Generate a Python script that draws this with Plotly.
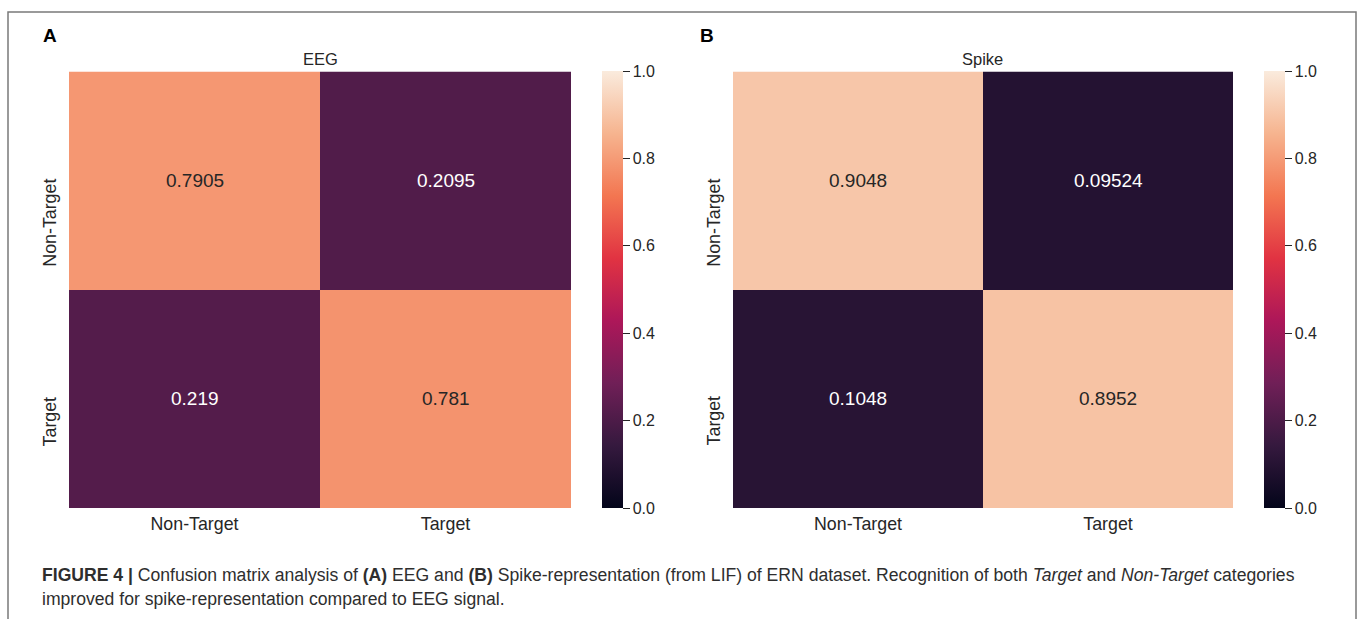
import plotly.graph_objects as go

# ---- data ----
categories = ["Non-Target", "Target"]
eeg_values = [[0.7905, 0.2095], [0.219, 0.781]]
spike_values = [[0.9048, 0.09524], [0.1048, 0.8952]]
panel_titles = ["EEG", "Spike"]
panel_letters = ["A", "B"]
cbar_ticks = [0.0, 0.2, 0.4, 0.6, 0.8, 1.0]
cbar_ticklabels = ["0.0", "0.2", "0.4", "0.6", "0.8", "1.0"]

W, H = 1362, 619
FONT = "Liberation Sans, Arial, sans-serif"
TXT = "#262626"

# seaborn "rocket" colormap samples
rocket = [
    [0.0, "#03051a"], [1/7, "#35193e"], [2/7, "#701f57"], [3/7, "#ad1759"],
    [4/7, "#e13342"], [5/7, "#f37651"], [6/7, "#f6b48f"], [1.0, "#faebdd"],
]

def px_x(p):
    return p / W

def px_y(p):
    return 1 - p / H

fig = go.Figure()

panels = [
    dict(vals=eeg_values, x0=69, x1=571, cb=602),
    dict(vals=spike_values, x0=733, x1=1233, cb=1264),
]
top, bottom = 71.5, 508

annotations = []
for i, p in enumerate(panels):
    xa = "x" if i == 0 else "x2"
    ya = "y" if i == 0 else "y2"
    fig.add_trace(go.Heatmap(
        z=p["vals"], x=[0, 1], y=[0, 1],
        colorscale=rocket, zmin=0, zmax=1,
        xaxis=xa, yaxis=ya, hoverinfo="skip",
        colorbar=dict(
            x=px_x(p["cb"]), xanchor="left", xpad=0, ypad=0,
            y=px_y(bottom), yanchor="bottom",
            lenmode="pixels", len=bottom - top,
            thicknessmode="pixels", thickness=21,
            outlinewidth=0, ticks="outside", ticklen=7, tickwidth=1,
            tickcolor=TXT, tickvals=cbar_ticks, ticktext=cbar_ticklabels,
            tickfont=dict(family=FONT, size=16, color=TXT),
        ),
    ))
    axsuffix = "" if i == 0 else "2"
    fig.layout["xaxis" + axsuffix] = dict(
        domain=[px_x(p["x0"]), px_x(p["x1"])], range=[-0.5, 1.5],
        tickvals=[0, 1], ticktext=categories, ticks="", showgrid=False,
        zeroline=False, showline=False, anchor=ya,
        tickfont=dict(family=FONT, size=17.8, color=TXT),
        ticklabelstandoff=3,
    )
    fig.layout["yaxis" + axsuffix] = dict(
        domain=[px_y(bottom), px_y(top)], range=[1.5, -0.5],
        showticklabels=False, ticks="", showgrid=False, zeroline=False,
        showline=False, anchor=xa,
    )
    # cell annotations
    for r in range(2):
        for c in range(2):
            v = p["vals"][r][c]
            annotations.append(dict(
                x=c, y=r, xref=xa, yref=ya, text=format(v, ".4g"),
                showarrow=False,
                font=dict(family=FONT, size=19, color=TXT if v > 0.5 else "white"),
            ))
    # y tick labels (rotated)
    for r, lab in enumerate(categories):
        annotations.append(dict(
            x=p["x0"] / W - 19 / W, y=r, xref="paper", yref=ya, text=lab,
            textangle=-90, showarrow=False, xanchor="center", yanchor="top",
            yshift=4, font=dict(family=FONT, size=17.8, color=TXT),
        ))
    # panel title
    annotations.append(dict(
        x=px_x((p["x0"] + p["x1"]) / 2), y=px_y(59), xref="paper", yref="paper",
        text=panel_titles[i], showarrow=False, xanchor="center", yanchor="middle",
        font=dict(family=FONT, size=16.5, color=TXT),
    ))
    # panel letter
    annotations.append(dict(
        x=px_x(41 if i == 0 else 698), y=px_y(36), xref="paper", yref="paper",
        text="<b>" + panel_letters[i] + "</b>", showarrow=False,
        xanchor="left", yanchor="middle",
        font=dict(family=FONT, size=19, color="black"),
    ))

# caption
cap1 = ("<b>FIGURE 4 |</b> Confusion matrix analysis of <b>(A)</b> EEG and <b>(B)</b> "
        "Spike-representation (from LIF) of ERN dataset. Recognition of both "
        "<i>Target</i> and <i>Non-Target</i> categories")
cap2 = "improved for spike-representation compared to EEG signal."
for txt, yc in [(cap1, 575), (cap2, 599)]:
    annotations.append(dict(
        x=px_x(40), y=px_y(yc), xref="paper", yref="paper", text=txt,
        showarrow=False, xanchor="left", yanchor="middle", align="left",
        font=dict(family=FONT, size=17.6, color="#2e2e2e"),
    ))

fig.update_layout(
    width=W, height=H, margin=dict(l=0, r=0, t=0, b=0),
    paper_bgcolor="white", plot_bgcolor="white",
    annotations=annotations, showlegend=False,
    shapes=[dict(type="rect", xref="paper", yref="paper",
                 x0=px_x(8), x1=px_x(1356), y0=-0.05, y1=px_y(12),
                 line=dict(color="#7a7a7a", width=1.5))],
)

fig.write_html(
    "out.html",
    config={"displayModeBar": False},
    post_script="document.body.style.margin='0';document.body.style.padding='0';"
                "document.body.style.overflow='hidden';",
)
